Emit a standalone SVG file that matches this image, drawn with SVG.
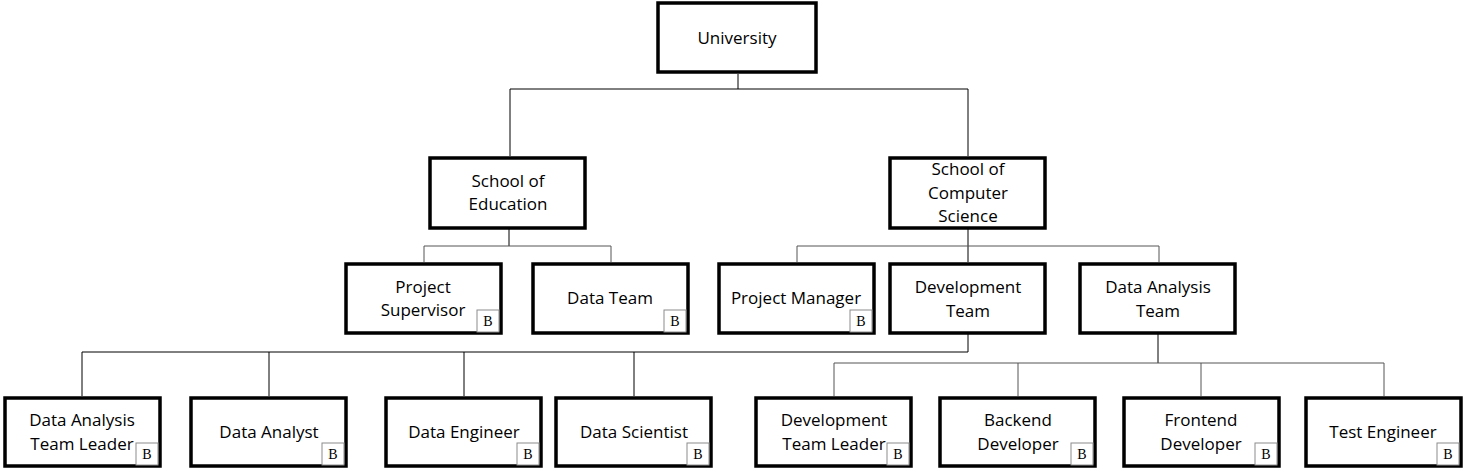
<svg xmlns="http://www.w3.org/2000/svg" width="1465" height="471" viewBox="0 0 1465 471">
<style>
.n{fill:#fff;stroke:#000;stroke-width:3.5}
.t{font-family:"Open Sans","Noto Sans",sans-serif;font-size:17px;fill:#000;text-anchor:middle}
.bb{fill:#fff;stroke:#8c8c8c;stroke-width:1}
.bt{font-family:"Liberation Serif",serif;font-size:14px;fill:#000;text-anchor:middle}
.c{fill:none;stroke:#000;stroke-width:1}
.g{fill:none;stroke:#555;stroke-width:1}
</style>
<rect width="1465" height="471" fill="#fff"/>
<g id="connectors">
<path class="c" d="M738 74V89M510 89H968M510 89V156M968 89V156"/>
<path class="c" d="M509 229V246"/>
<path class="g" d="M424 246H611M424 246V262M611 246V262"/>
<path class="c" d="M968 229V262"/>
<path class="g" d="M797 246H1159M797 246V262M1159 246V262"/>
<path class="c" d="M968 334V352H82V396M269 352V396M464 352V396M634 352V396"/>
<path class="c" d="M1158 334V363"/>
<path class="g" d="M834 363H1384M834 363V396M1018 363V396M1201 363V396M1384 363V396"/>
</g>
<g id="university"><rect class="n" x="658" y="3" width="158" height="69"/><text class="t" x="737" y="44">University</text></g>
<g id="school-education"><rect class="n" x="430" y="158" width="155" height="70"/><text class="t" x="508" y="187">School of</text><text class="t" x="508" y="210">Education</text></g>
<g id="school-cs"><rect class="n" x="890" y="158" width="155" height="70"/><text class="t" x="968" y="175">School of</text><text class="t" x="968" y="199">Computer</text><text class="t" x="968" y="222">Science</text></g>
<g id="project-supervisor"><rect class="n" x="346" y="264" width="155" height="69"/><text class="t" x="423" y="293">Project</text><text class="t" x="423" y="316">Supervisor</text><rect class="bb" x="477" y="310" width="22" height="22"/><text class="bt" x="488" y="326">B</text></g>
<g id="data-team"><rect class="n" x="533" y="264" width="155" height="69"/><text class="t" x="610" y="304">Data Team</text><rect class="bb" x="664" y="310" width="22" height="22"/><text class="bt" x="675" y="326">B</text></g>
<g id="project-manager"><rect class="n" x="719" y="264" width="155" height="69"/><text class="t" x="796" y="304">Project Manager</text><rect class="bb" x="850" y="310" width="22" height="22"/><text class="bt" x="861" y="326">B</text></g>
<g id="development-team"><rect class="n" x="890" y="264" width="155" height="69"/><text class="t" x="968" y="293">Development</text><text class="t" x="968" y="317">Team</text></g>
<g id="data-analysis-team"><rect class="n" x="1080" y="264" width="155" height="69"/><text class="t" x="1158" y="293">Data Analysis</text><text class="t" x="1158" y="317">Team</text></g>
<g id="data-analysis-team-leader"><rect class="n" x="5" y="398" width="155" height="68"/><text class="t" x="82" y="426">Data Analysis</text><text class="t" x="82" y="450">Team Leader</text><rect class="bb" x="136" y="443" width="22" height="22"/><text class="bt" x="147" y="459">B</text></g>
<g id="data-analyst"><rect class="n" x="191" y="398" width="155" height="68"/><text class="t" x="269" y="438">Data Analyst</text><rect class="bb" x="322" y="443" width="22" height="22"/><text class="bt" x="333" y="459">B</text></g>
<g id="data-engineer"><rect class="n" x="386" y="398" width="155" height="68"/><text class="t" x="464" y="438">Data Engineer</text><rect class="bb" x="517" y="443" width="22" height="22"/><text class="bt" x="528" y="459">B</text></g>
<g id="data-scientist"><rect class="n" x="556" y="398" width="155" height="68"/><text class="t" x="634" y="438">Data Scientist</text><rect class="bb" x="687" y="443" width="22" height="22"/><text class="bt" x="698" y="459">B</text></g>
<g id="development-team-leader"><rect class="n" x="756" y="398" width="155" height="68"/><text class="t" x="834" y="426">Development</text><text class="t" x="834" y="450">Team Leader</text><rect class="bb" x="887" y="443" width="22" height="22"/><text class="bt" x="898" y="459">B</text></g>
<g id="backend-developer"><rect class="n" x="940" y="398" width="155" height="68"/><text class="t" x="1018" y="426">Backend</text><text class="t" x="1018" y="450">Developer</text><rect class="bb" x="1071" y="443" width="22" height="22"/><text class="bt" x="1082" y="459">B</text></g>
<g id="frontend-developer"><rect class="n" x="1124" y="398" width="155" height="68"/><text class="t" x="1201" y="426">Frontend</text><text class="t" x="1201" y="450">Developer</text><rect class="bb" x="1255" y="443" width="22" height="22"/><text class="bt" x="1266" y="459">B</text></g>
<g id="test-engineer"><rect class="n" x="1306" y="398" width="155" height="68"/><text class="t" x="1383" y="438">Test Engineer</text><rect class="bb" x="1437" y="443" width="22" height="22"/><text class="bt" x="1448" y="459">B</text></g>
</svg>
